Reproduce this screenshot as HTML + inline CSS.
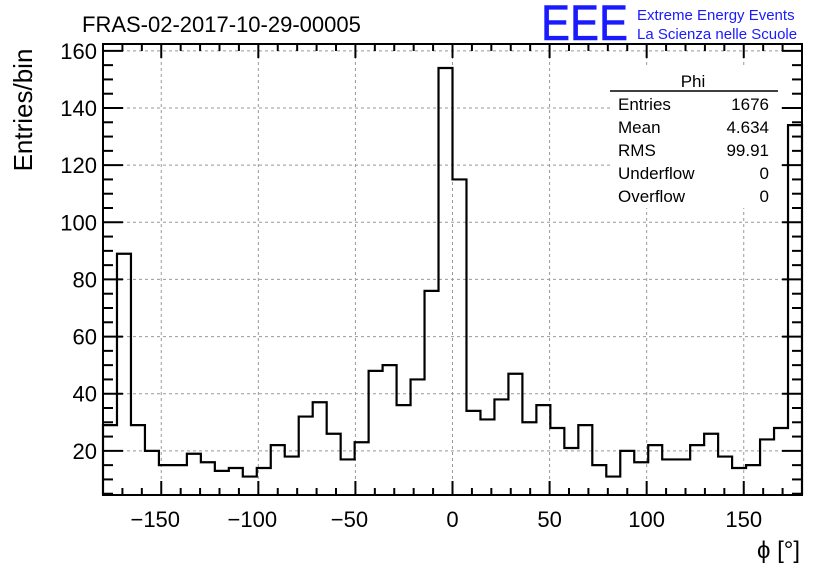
<!DOCTYPE html>
<html><head><meta charset="utf-8"><style>
body{margin:0;background:#fff;}
svg text{font-family:"Liberation Sans",sans-serif;}
</style></head><body>
<svg width="836" height="572" viewBox="0 0 836 572" xmlns="http://www.w3.org/2000/svg">
<rect width="836" height="572" fill="#fff"/>
<text x="82" y="32" font-size="22">FRAS-02-2017-10-29-00005</text>
<text x="541" y="40" font-size="50" fill="#1a1aff" stroke="#1a1aff" stroke-width="0.6" textLength="87" lengthAdjust="spacingAndGlyphs">EEE</text>
<text x="637" y="20" font-size="15" fill="#1a1aff">Extreme Energy Events</text>
<text x="637" y="39" font-size="15" fill="#1a1aff">La Scienza nelle Scuole</text>
<g id="grid"></g>
<g id="hist"></g>
<g id="axes"></g>
<rect x="103" y="44" width="699" height="451" fill="none" stroke="#000" stroke-width="2"/>
<g>
<rect x="610" y="68" width="168" height="140" fill="#fff"/>
<text x="693" y="87" font-size="17" text-anchor="middle">Phi</text>
<line x1="610" y1="91" x2="778" y2="91" stroke="#000" stroke-width="1.5"/>
<text x="618" y="110" font-size="17">Entries</text><text x="769" y="110" font-size="17" text-anchor="end">1676</text>
<text x="618" y="133" font-size="17">Mean</text><text x="769" y="133" font-size="17" text-anchor="end">4.634</text>
<text x="618" y="156" font-size="17">RMS</text><text x="769" y="156" font-size="17" text-anchor="end">99.91</text>
<text x="618" y="179" font-size="17">Underflow</text><text x="769" y="179" font-size="17" text-anchor="end">0</text>
<text x="618" y="202" font-size="17">Overflow</text><text x="769" y="202" font-size="17" text-anchor="end">0</text>
</g>
<text x="32" y="110" font-size="26" text-anchor="middle" transform="rotate(-90 32 110)">Entries/bin</text>
<text x="800" y="558" font-size="24" text-anchor="end">ϕ [°]</text>
</svg>
<script>
const counts=[29,89,29,20,15,15,19,16,13,14,11,14,22,18,32,37,26,17,23,48,50,36,45,76,154,115,34,31,38,47,30,36,28,21,29,15,11,20,16,22,17,17,22,26,18,14,15,24,28,134];
const xTicks=[-150,-100,-50,0,50,100,150];
const yTicks=[20,40,60,80,100,120,140,160];
const xMin=-180,xMax=180,yMin=4.55,yMax=162.4;
const L=103,R=802,T=44,B=495;
const NS="http://www.w3.org/2000/svg";
function sx(v){return L+(v-xMin)/(xMax-xMin)*(R-L);}
function sy(v){return B-(v-yMin)/(yMax-yMin)*(B-T);}
function mk(tag,at,parent){const e=document.createElementNS(NS,tag);for(const k in at)e.setAttribute(k,at[k]);document.getElementById(parent).appendChild(e);return e;}
xTicks.forEach(t=>{const g=mk('line',{x1:sx(t),x2:sx(t),y1:T,y2:B,stroke:'#999','stroke-dasharray':'3,3','stroke-width':1},'grid');

});
yTicks.forEach(t=>{const g=mk('line',{x1:L,x2:R,y1:sy(t),y2:sy(t),stroke:'#999','stroke-dasharray':'3,3','stroke-width':1},'grid');

});
const n=counts.length,w=(xMax-xMin)/n;
let d='M'+sx(xMin)+','+B;
counts.forEach((c,i)=>{const x0=sx(xMin+i*w),x1=sx(xMin+(i+1)*w),y=sy(c);d+=' L'+x0+','+y+' L'+x1+','+y;});
d+=' L'+sx(xMax)+','+B;
const p=mk('path',{d:d,fill:'none',stroke:'#000','stroke-width':2.2},'hist');


for(let v=-170;v<=170;v+=10){const maj=v%50===0;const l=maj?14:7;
mk('line',{x1:sx(v),x2:sx(v),y1:B,y2:B-l,stroke:'#000','stroke-width':2},'axes');
mk('line',{x1:sx(v),x2:sx(v),y1:T,y2:T+l,stroke:'#000','stroke-width':2},'axes');}
for(let v=5;v<=160;v+=5){const maj=v%20===0;const l=maj?20:10;
mk('line',{x1:L,x2:L+l,y1:sy(v),y2:sy(v),stroke:'#000','stroke-width':2},'axes');
mk('line',{x1:R,x2:R-l,y1:sy(v),y2:sy(v),stroke:'#000','stroke-width':2},'axes');}
xTicks.forEach(t=>{const e=mk('text',{x:sx(t)-(t<0?6:0),y:527,'font-size':22,'text-anchor':'middle'},'axes');e.textContent=(t<0?'\u2212'+(-t):t);

});
yTicks.forEach(t=>{const e=mk('text',{x:97,y:sy(t)+8,'font-size':22,'text-anchor':'end'},'axes');e.textContent=t;

});
</script>
</body></html>
